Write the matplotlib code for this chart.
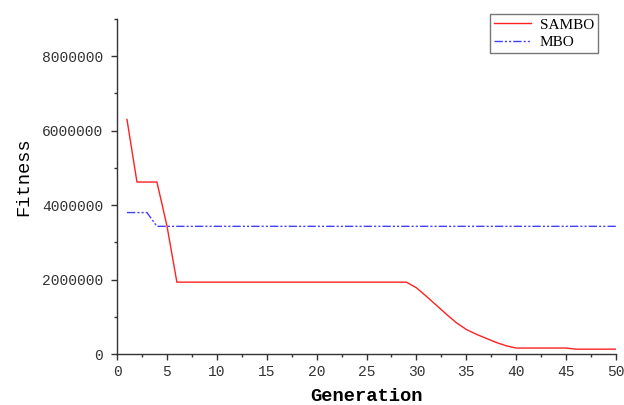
import matplotlib
matplotlib.use('Agg')
import matplotlib.pyplot as plt

# Dados
generation = list(range(1, 51))
sambo = ([6.30e6, 4.62e6, 4.62e6, 4.62e6, 3.45e6] + [1.93e6] * 24 +
         [1.78e6, 1.55e6, 1.31e6, 1.07e6, 0.84e6, 0.66e6, 0.53e6,
          0.42e6, 0.31e6, 0.22e6, 0.16e6] + [0.16e6] * 5 + [0.13e6] * 5)
mbo = [3.80e6, 3.80e6, 3.80e6] + [3.43e6] * 47

xticks = list(range(0, 51, 5))
yticks = [0, 2000000, 4000000, 6000000, 8000000]

fig = plt.figure(figsize=(6.24, 4.05), dpi=100)
ax = fig.add_axes([117 / 624, 51 / 405, 499 / 624, 335 / 405])

ax.plot(generation, sambo, color='#ff2020', lw=1.0, label='SAMBO')
ax.plot(generation, mbo, color='#4040ff', lw=1.0, dashes=[6, 1.5, 1.5, 1.5, 1.5, 1.5],
        label='MBO')

ax.set_xlim(0, 50)
ax.set_ylim(0, 9e6)
ax.set_xticks(xticks)
ax.set_xticks([x + 2.5 for x in xticks[:-1]], minor=True)
ax.set_yticks(yticks)
ax.set_yticks([y + 1000000 for y in yticks], minor=True)
ax.set_xticklabels([str(x) for x in xticks])
ax.set_yticklabels([str(y) for y in yticks])

for s in ['top', 'right']:
    ax.spines[s].set_visible(False)
for s in ['left', 'bottom']:
    ax.spines[s].set_color('#333333')
    ax.spines[s].set_linewidth(1.0)

ax.tick_params(which='major', direction='out', length=4, width=1, color='#333333',
               labelsize=10.5, labelcolor='#333333', pad=4)
ax.tick_params(axis='y', which='major', pad=6)
ax.tick_params(which='minor', direction='out', length=2, width=1, color='#333333')
for lab in ax.get_xticklabels() + ax.get_yticklabels():
    lab.set_family('Liberation Mono')

ax.set_xlabel('Generation', family='Liberation Mono', fontweight='bold', fontsize=13.5,
              va='baseline')
ax.set_ylabel('Fitness', family='Liberation Mono', fontsize=13.5)
ax.xaxis.set_label_coords(0.5, -(401 - 354) / 335)
ax.yaxis.set_label_coords(-(117 - 32) / 499, 0.53)

leg = ax.legend(loc='upper right', bbox_to_anchor=(598 / 624, 391 / 405),
                bbox_transform=fig.transFigure,
                prop={'family': 'Liberation Serif', 'size': 11},
                frameon=True, fancybox=False, borderpad=0.25, handlelength=2.4,
                labelspacing=0.25, handletextpad=0.6, borderaxespad=0)
leg.get_frame().set_edgecolor('#555555')
leg.get_frame().set_linewidth(1.0)

fig.savefig('out.png', dpi=100)
